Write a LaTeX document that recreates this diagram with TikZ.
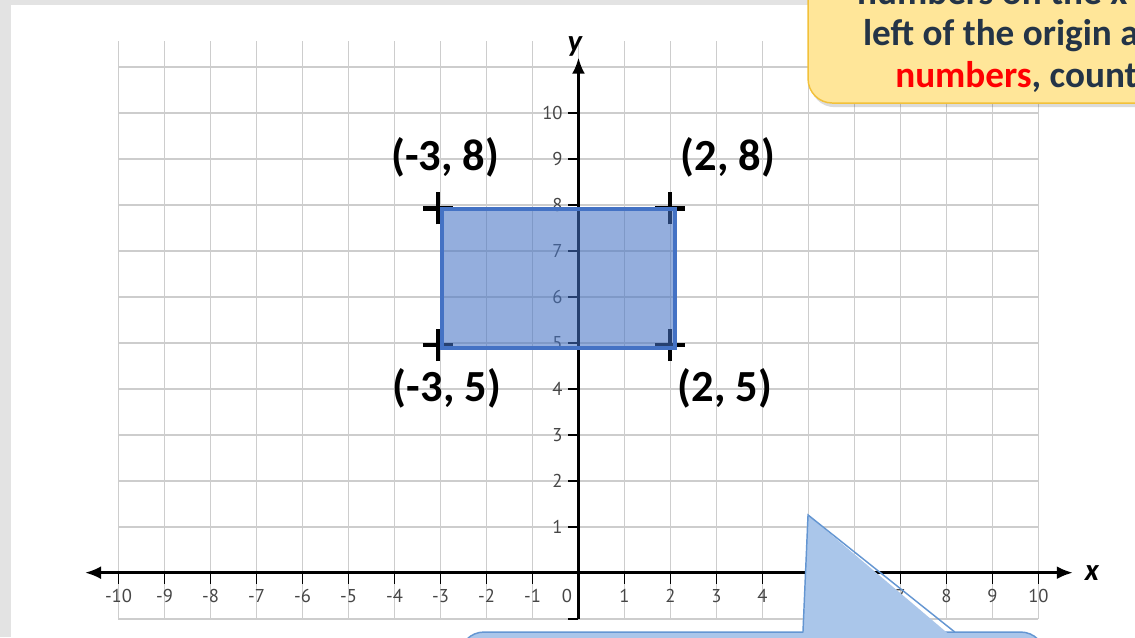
\documentclass[tikz,border=0pt]{standalone}
\usepackage{fontspec}
\setmainfont{Carlito}
\newfontfamily\ticksfont{PT Sans}
\usetikzlibrary{arrows.meta,positioning,calc}
\definecolor{rectblue}{RGB}{68,114,196}
\definecolor{notefill}{RGB}{255,230,153}
\definecolor{noteline}{RGB}{242,193,58}
\definecolor{notetext}{RGB}{36,52,71}
\definecolor{callfill}{RGB}{170,198,234}
\definecolor{callline}{RGB}{100,150,210}
\definecolor{gridgray}{RGB}{205,205,205}
\definecolor{ticktext}{RGB}{70,70,70}

\begin{document}
\begin{tikzpicture}[
  gridline/.style={gridgray,line width=1.1pt},
  axis/.style={line width=1.8pt},
  tickmark/.style={line width=1.1pt},
  num/.style={font=\ticksfont\fontsize{11.5}{13}\selectfont,text=ticktext,inner sep=0pt},
  axlabel/.style={font=\bfseries\itshape\fontsize{19}{22}\selectfont,inner sep=0pt},
  ptlabel/.style={font=\bfseries\fontsize{27.5}{32}\selectfont,inner sep=0pt},
  cross/.style={line width=2.7pt},
  notetxt/.style={font=\bfseries\fontsize{23}{27}\selectfont,text=notetext,anchor=base west,inner sep=0pt}
]
  \useasboundingbox (-12.576,-1.398) rectangle (12.098,12.45);
  \fill[black!11] (-12.576,-1.398) rectangle (12.098,12.45);
  \fill[white] (-12.34,-1.398) rectangle (12.098,12.34);

  % grid and axes
  \draw[gridline] (-10,-1) grid (10,11.56);
  \coordinate (xl) at (-10.73,0);
  \coordinate (xr) at (10.75,0);
  \coordinate (yb) at (0,-1);
  \coordinate (yt) at (0,11.2);
  \draw[axis,{Latex[length=10pt,width=8pt]}-{Latex[length=10pt,width=8pt]}] (xl) -- (xr);
  \draw[axis,-{Latex[length=10pt,width=8pt]}] (yb) -- (yt);
  \draw[tickmark] (yb) -- ++(-0.22,0);
  \node[axlabel] (xlab) at (11.16,0) {x};
  \node[axlabel] (ylab) at (-0.08,11.43) {y};

  \foreach \x in {-10,...,-1,1,2,...,10} {
    \draw[tickmark] (\x,0) -- (\x,-0.25);
    \node[num] (xn\x) at (\x,-0.5) {\x};
  }
  \node[num] (xn0) at (-0.25,-0.5) {0};
  \foreach \y in {1,...,10} {
    \draw[tickmark] (0,\y) -- (-0.22,\y);
    \node[num,anchor=east] (yn\y) at (-0.34,\y) {\y};
  }

  % corner marks and rectangle
  \coordinate (c1) at (-3.05,7.92);
  \coordinate (c2) at (1.99,7.92);
  \coordinate (c3) at (-3.05,4.95);
  \coordinate (c4) at (1.99,4.95);
  \foreach \c in {c1,c2,c3,c4} {
    \draw[cross] ($(\c)+(-0.33,0)$) -- ($(\c)+(0.33,0)$);
    \draw[cross] ($(\c)+(0,-0.35)$) -- ($(\c)+(0,0.35)$);
  }
  \filldraw[draw=rectblue,fill=rectblue,fill opacity=0.57,line width=2.6pt]
    (-2.97,4.89) rectangle (2.1,7.9);

  \node[ptlabel] (p1) at (-2.90,9.02) {(-3, 8)};
  \node[ptlabel] (p2) at (3.25,9.02) {(2, 8)};
  \node[ptlabel] (p3) at (-2.86,4.01) {(-3, 5)};
  \node[ptlabel] (p4) at (3.18,4.01) {(2, 5)};

  % yellow note, top right
  \fill[black,opacity=0.14,rounded corners=15pt] (5.04,10.12) rectangle (13.5,13.5);
  \draw[fill=notefill,draw=noteline,line width=0.9pt,rounded corners=15pt]
    (4.99,10.21) rectangle (13.5,13.5);
  \node[notetxt] (n1) at (6.05,12.36) {numbers on the x};
  \node[notetxt] (n2) at (6.18,11.45) {left of the origin a};
  \node[notetxt] (n3) at (6.88,10.54) {{\color{red}numbers}, count};

  % blue callout, bottom
  \coordinate (tip) at (4.99,1.255);
  \coordinate (bl) at (4.88,-1.29);
  \coordinate (br) at (8.18,-1.29);
  \draw[fill=callfill,draw=callline,line width=0.9pt,rounded corners=15pt]
    (-2.58,-3) rectangle (10.14,-1.29);
  \fill[callfill] ($(bl)+(0,-0.2)$) -- (tip) -- ($(br)+(0.05,-0.2)$) -- cycle;
  \draw[callline,line width=0.9pt] (bl) -- (tip) -- (br);
\end{tikzpicture}
\end{document}
